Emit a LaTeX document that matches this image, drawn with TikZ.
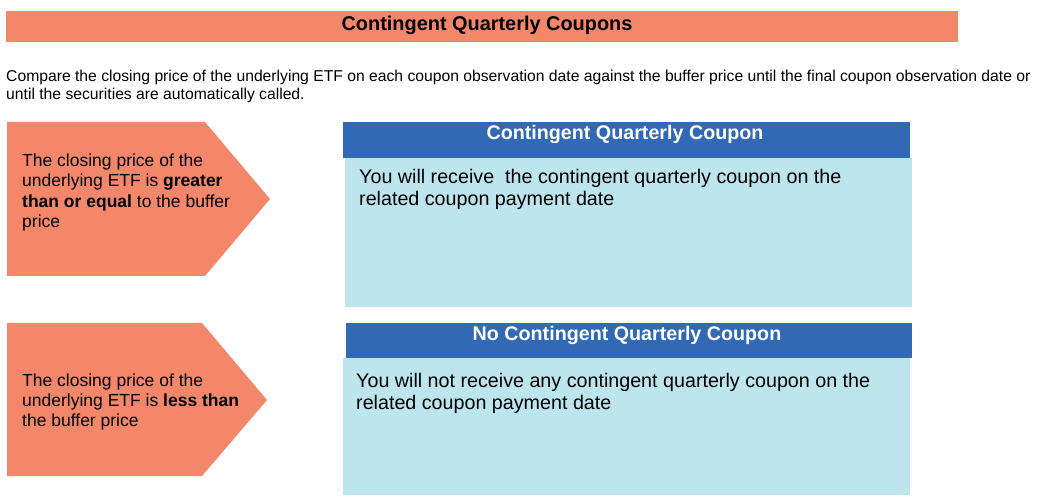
\documentclass[tikz,border=0pt]{standalone}
\usepackage{fontspec}
\setmainfont{Liberation Sans}
\definecolor{salmon}{HTML}{F4876A}
\definecolor{hdrblue}{HTML}{3169B5}
\definecolor{lightblue}{HTML}{BDE5EE}
\tikzset{
  arrowshape/.style={fill=salmon},
  arrowtext/.style={anchor=north west, inner sep=0pt, align=left},
  hdrbar/.style={fill=hdrblue, anchor=north west, inner sep=0pt},
  hdrtext/.style={anchor=base, inner sep=0pt, text=white, font=\bfseries\fontsize{19.7}{22}\selectfont},
  bodybox/.style={fill=lightblue, anchor=north west, inner sep=0pt},
  bodytext/.style={anchor=north west, inner sep=0pt, align=left}
}
\begin{document}
\begin{tikzpicture}[x=1pt,y=-1pt]
\useasboundingbox (0,0) rectangle (1044,502);
\fill[white] (0,0) rectangle (1044,502);
% title
\node[fill=salmon, anchor=north west, inner sep=0pt, minimum width=952pt, minimum height=31pt] (title) at (6,10.5) {};
\node[font=\bfseries\fontsize{19.9}{22}\selectfont, anchor=base, inner sep=0pt] (titletext) at (487,31) {Contingent Quarterly Coupons};
% paragraph
\node[anchor=north west, inner sep=0pt, align=left, font=\fontsize{15.7}{18}\selectfont] (intro) at (6,69.8)
  {Compare the closing price of the underlying ETF on each coupon observation date against the buffer price until the final coupon observation date or\\
   until the securities are automatically called.};
% top arrow
\fill[arrowshape] (7,122) -- (205,122) -- (270,199) -- (205,276) -- (7,276) -- cycle;
\node[arrowtext, font=\fontsize{17.5}{20.5}\selectfont] (cond1) at (22,153.5)
  {The closing price of the\\ underlying ETF is \textbf{greater}\\ \textbf{than or equal} to the buffer\\ price};
% bottom arrow
\fill[arrowshape] (7,323) -- (202,323) -- (267,400) -- (202,476) -- (7,476) -- cycle;
\node[arrowtext, font=\fontsize{17.5}{20}\selectfont] (cond2) at (22,373.5)
  {The closing price of the\\ underlying ETF is \textbf{less than}\\ the buffer price};
% top right box
\node[bodybox, minimum width=567pt, minimum height=149pt] (body1) at (345,158) {};
\node[hdrbar, minimum width=567pt, minimum height=36pt] (hdr1) at (343,122) {};
\node[hdrtext] (hdr1text) at (625,140) {Contingent Quarterly Coupon};
\node[bodytext, font=\fontsize{19.7}{22}\selectfont] (text1) at (359,168.9)
  {You will receive\ \ the contingent quarterly coupon on the\\ related coupon payment date};
% bottom right box
\node[bodybox, minimum width=567pt, minimum height=137pt] (body2) at (343,358) {};
\node[hdrbar, minimum width=566pt, minimum height=35pt] (hdr2) at (346,323) {};
\node[hdrtext] (hdr2text) at (627,341) {No Contingent Quarterly Coupon};
\node[bodytext, font=\fontsize{19.7}{22.5}\selectfont] (text2) at (356,372.9)
  {You will not receive any contingent quarterly coupon on the\\ related coupon payment date};
\end{tikzpicture}
\end{document}
